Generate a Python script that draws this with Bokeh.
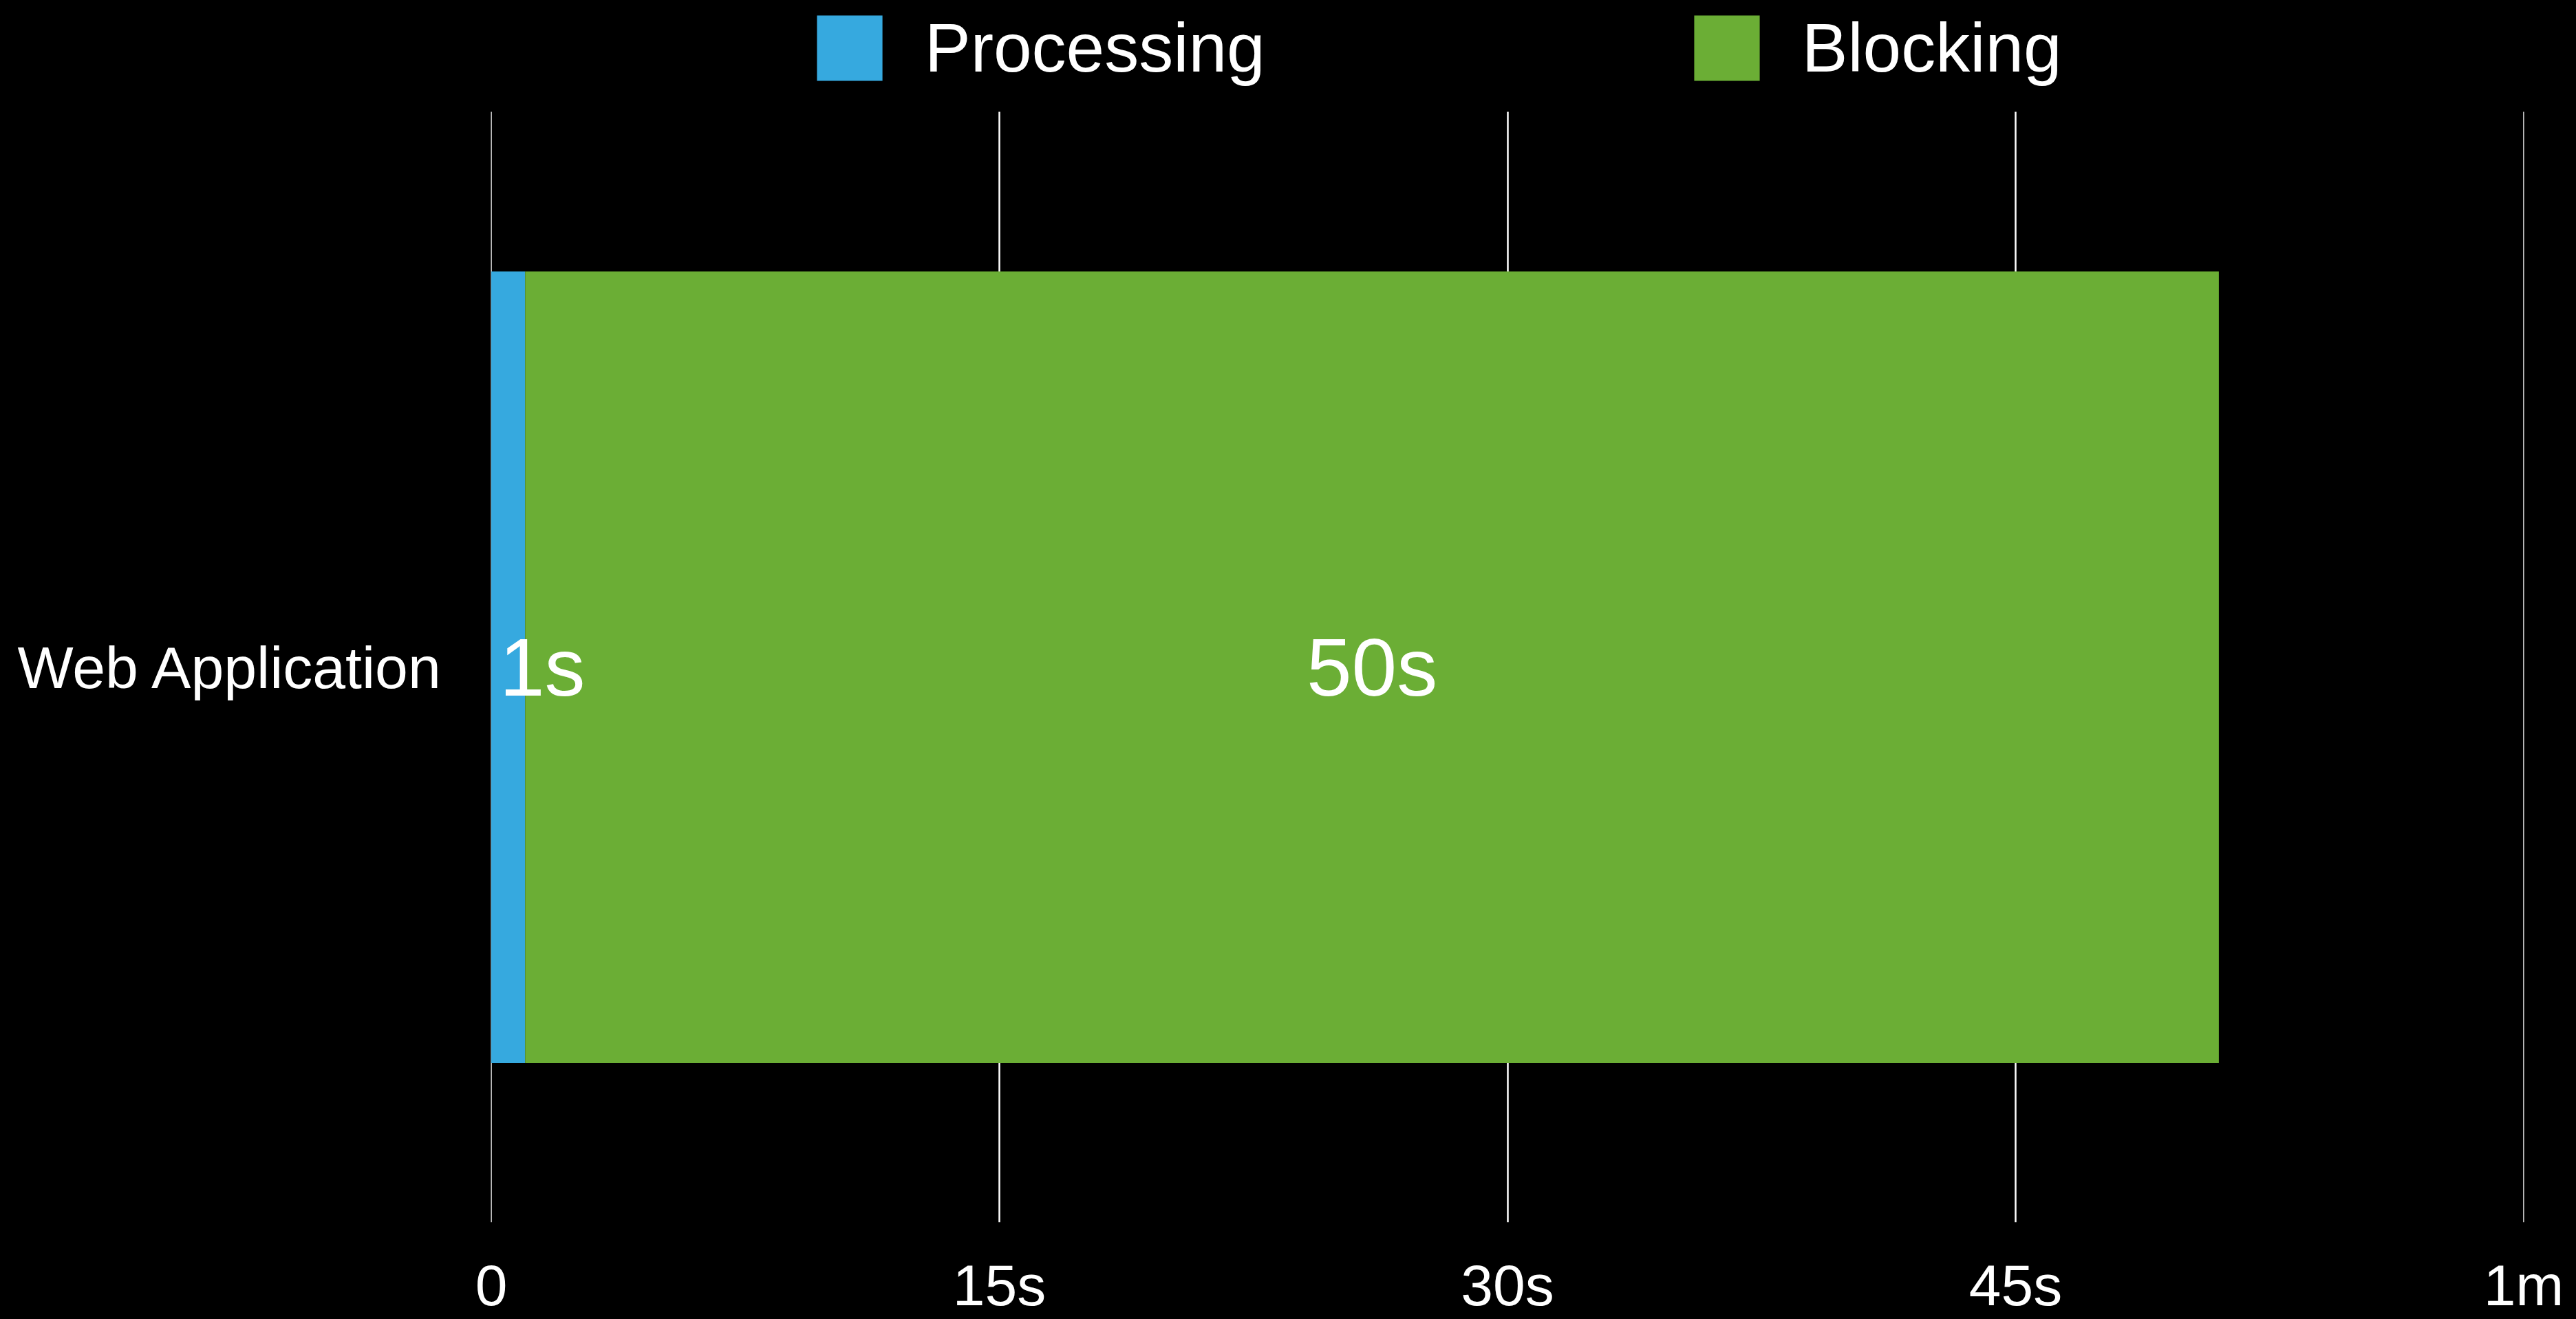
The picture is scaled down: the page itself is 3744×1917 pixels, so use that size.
from bokeh.plotting import figure
from bokeh.models import ColumnDataSource, Range1d, Legend, LegendItem, FixedTicker
from bokeh.core.properties import value
from bokeh.embed import file_html
from bokeh.resources import INLINE

categories = ["Web Application"]
processing = [1]
blocking = [50]
series_names = ["Processing", "Blocking"]
colors = ["#36A9DF", "#6BAE35"]
tick_values = [0, 15, 30, 45, 60]
tick_labels = ["0", "15s", "30s", "45s", "1m"]
labels_processing = ["1s"]
labels_blocking = ["50s"]

FONT = "Liberation Sans"

ypos = [i + 0.5 for i in range(len(categories))]
proc_end = list(processing)
block_end = [a + b for a, b in zip(processing, blocking)]
block_mid = [a + b / 2 for a, b in zip(processing, blocking)]

src = ColumnDataSource(dict(
    y=ypos,
    zero=[0] * len(categories),
    proc_end=proc_end,
    block_end=block_end,
    block_mid=block_mid,
    lab_p=labels_processing,
    lab_b=labels_blocking,
))

n = len(categories)
p = figure(width=3744, height=1917,
           x_range=Range1d(-0.01, 60.01),
           y_range=Range1d(0, n + 0.1006),
           output_backend="svg", toolbar_location=None,
           min_border_left=713, min_border_right=76,
           min_border_top=0, min_border_bottom=141)

p.styles = {"background-color": "black"}
p.background_fill_color = "black"
p.border_fill_color = "black"
p.outline_line_color = None

r1 = p.hbar(y="y", left="zero", right="proc_end", height=0.713, source=src,
            fill_color=colors[0], line_color=None)
r2 = p.hbar(y="y", left="proc_end", right="block_end", height=0.713, source=src,
            fill_color=colors[1], line_color=None)

p.text(x="zero", y="y", text="lab_p", source=src, text_align="left",
       text_baseline="middle", text_color="white", x_offset=12,
       text_font=value(FONT), text_font_size="118px")
p.text(x="block_mid", y="y", text="lab_b", source=src, text_align="center",
       text_baseline="middle", text_color="white",
       text_font=value(FONT), text_font_size="118px")

ticker = FixedTicker(ticks=tick_values)
p.xaxis.ticker = ticker
p.xgrid.ticker = ticker
p.xaxis.major_label_overrides = {v: l for v, l in zip(tick_values, tick_labels)}
p.xaxis.axis_line_color = None
p.xaxis.major_tick_line_color = None
p.xaxis.minor_tick_line_color = None
p.xaxis.major_tick_out = 0
p.xaxis.major_tick_in = 0
p.xaxis.major_label_standoff = 44
p.xaxis.major_label_text_color = "white"
p.xaxis.major_label_text_font = FONT
p.xaxis.major_label_text_font_size = "84px"

p.yaxis.ticker = FixedTicker(ticks=ypos)
p.yaxis.major_label_overrides = {v: c for v, c in zip(ypos, categories)}
p.yaxis.axis_line_color = None
p.yaxis.major_tick_line_color = None
p.yaxis.minor_tick_line_color = None
p.yaxis.major_tick_out = 0
p.yaxis.major_tick_in = 0
p.yaxis.major_label_standoff = 68
p.yaxis.major_label_text_color = "white"
p.yaxis.major_label_text_font = FONT
p.yaxis.major_label_text_font_size = "86px"

p.xgrid.grid_line_color = "white"
p.xgrid.grid_line_width = 2.5
p.xgrid.cross_bounds = (0, n)
p.ygrid.grid_line_color = None

legend = Legend(items=[LegendItem(label=series_names[0], renderers=[r1]),
                       LegendItem(label=series_names[1], renderers=[r2])],
                orientation="horizontal", location=(462, 1647),
                glyph_width=119, glyph_height=119, label_standoff=50,
                spacing=611, padding=0, margin=0,
                background_fill_alpha=0, border_line_color=None,
                label_text_color="white", label_text_font=FONT,
                label_text_font_size="100px")
p.add_layout(legend, "center")

open("out.html", "w").write(file_html(p, INLINE))
